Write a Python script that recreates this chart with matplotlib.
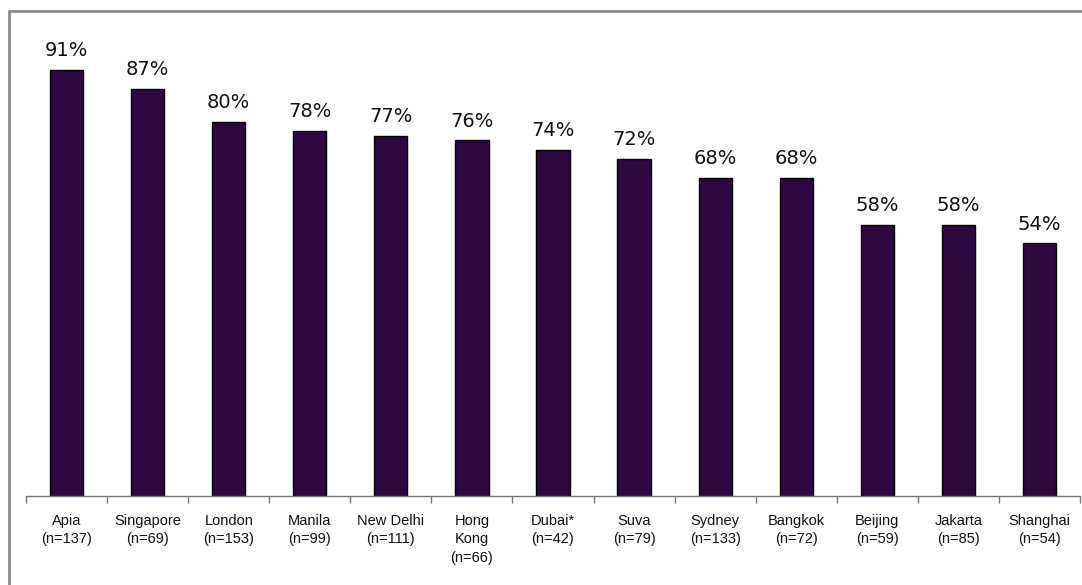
import matplotlib
matplotlib.use("Agg")
import matplotlib.pyplot as plt
import numpy as np
from matplotlib.patches import Rectangle

cities = ["Apia", "Singapore", "London", "Manila", "New Delhi", "Hong\nKong",
          "Dubai*", "Suva", "Sydney", "Bangkok", "Beijing", "Jakarta", "Shanghai"]
sample_n = [137, 69, 153, 99, 111, 66, 42, 79, 133, 72, 59, 85, 54]
pct = [91, 87, 80, 78, 77, 76, 74, 72, 68, 68, 58, 58, 54]

bar_color = "#2E0841"

fig = plt.figure(figsize=(10.82, 5.85), dpi=100)
W, H = 1082, 585

# gray frame around the chart area (runs off the right and bottom edges)
fig.patches.append(Rectangle((8.5 / W, -0.05), 1.2, (H - 11) / H + 0.05,
                             transform=fig.transFigure, fill=False,
                             edgecolor="#8C8C8C", linewidth=2.0))

ax = fig.add_axes([26 / W, 89 / H, (1080 - 26) / W, (496 - 28) / H])
x = np.arange(len(cities))
bars = ax.bar(x, pct, width=0.41, color=bar_color, edgecolor="black", linewidth=1.0)

for xi, v in zip(x, pct):
    ax.annotate(f"{v}%", (xi, v), xytext=(0, 7), textcoords="offset points",
                ha="center", va="bottom", fontsize=14, family="DejaVu Sans",
                color="#111111")

ax.set_xlim(-0.5, len(cities) - 0.5)
ax.set_ylim(0, 100)

for s in ["left", "right", "top"]:
    ax.spines[s].set_visible(False)
ax.spines["bottom"].set_color("#777777")
ax.spines["bottom"].set_linewidth(1.0)
ax.set_yticks([])

ax.set_xticks(np.arange(len(cities) + 1) - 0.5)
ax.set_xticklabels([])
ax.tick_params(axis="x", which="major", length=5, width=1.0, color="#777777", direction="out")

labels = [f"{c}\n(n={n})" for c, n in zip(cities, sample_n)]
ax.set_xticks(x, minor=True)
ax.set_xticklabels(labels, minor=True, fontsize=10.5, family="Liberation Sans",
                   color="#111111", linespacing=1.4)
ax.tick_params(axis="x", which="minor", length=0, pad=13)

fig.savefig("out.png", dpi=100)
